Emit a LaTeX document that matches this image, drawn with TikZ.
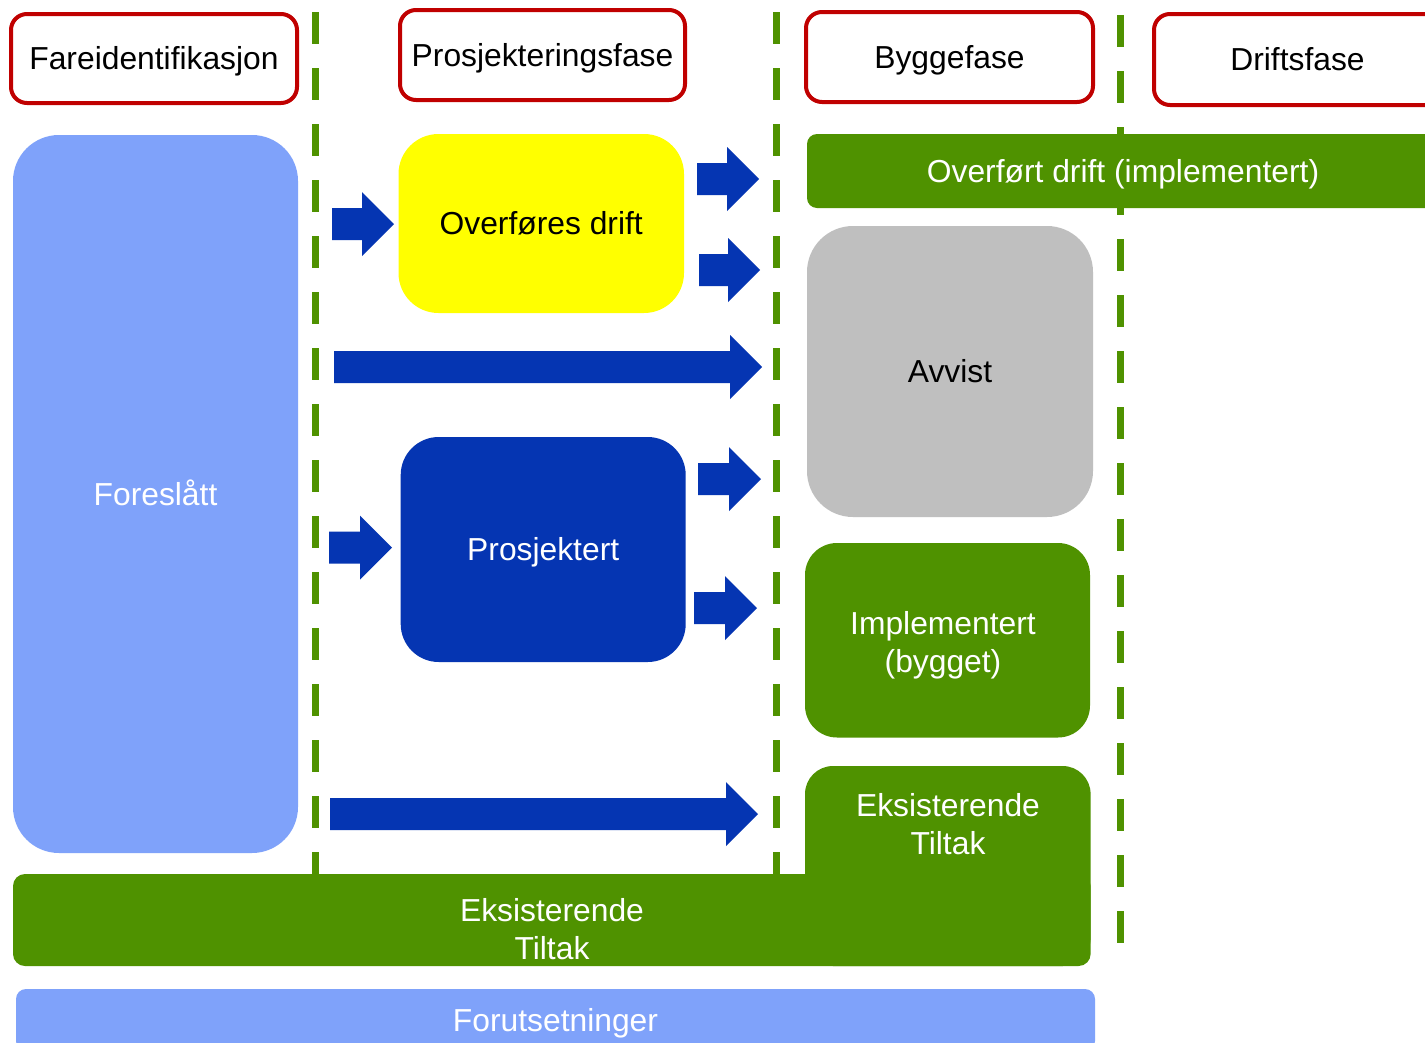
\documentclass[tikz,border=0pt]{standalone}
\usepackage{fontspec}
\setmainfont{Liberation Sans}
\definecolor{redc}{RGB}{192,0,0}
\definecolor{grn}{RGB}{79,146,0}
\definecolor{lblue}{RGB}{127,162,250}
\definecolor{dblue}{RGB}{5,53,178}
\definecolor{grayc}{RGB}{191,191,191}
\definecolor{yel}{RGB}{255,255,0}
\newcommand{\blockarr}[3]{%
  \fill[dblue] (#1,#3-16) -- (#2-32,#3-16) -- (#2-32,#3-32) -- (#2,#3)
    -- (#2-32,#3+32) -- (#2-32,#3+16) -- (#1,#3+16) -- cycle;}
\begin{document}
\begin{tikzpicture}[x=1pt,y=-1pt,
  txt/.style={font=\fontsize{31.8}{38}\selectfont},
  one/.style={txt, text height=22.8pt, text depth=0pt},
  shp/.style={inner sep=0pt, outer sep=0pt},
  hdr/.style={shp, one, draw=redc, line width=4pt, fill=white, rounded corners=16pt, text=black},
  dashline/.style={draw=grn, line width=7pt, dash pattern=on 32pt off 24pt},
  mtxt/.style={txt, align=center, anchor=north, inner sep=0pt, text=white}]
\useasboundingbox (0,0) rectangle (1425,1042);
\clip (0,0) rectangle (1425,1042);
\fill[white] (0,0) rectangle (1425,1042);

% phase separators
\coordinate (s1t) at (315,12);  \coordinate (s1b) at (315,966);
\coordinate (s2t) at (776,12);  \coordinate (s2b) at (776,966);
\coordinate (s3t) at (1120,15); \coordinate (s3b) at (1120,943);
\draw[dashline] (s1t) -- (s1b);
\draw[dashline] (s2t) -- (s2b);
\draw[dashline] (s3t) -- (s3b);

% headers
\node[hdr, minimum width=286pt, minimum height=89pt] (h1) at (154,58.5) {Fareidentifikasjon};
\node[hdr, minimum width=285pt, minimum height=90pt] (h2) at (542.5,55) {Prosjekteringsfase};
\node[hdr, minimum width=287pt, minimum height=90pt] (h3) at (949.5,57) {Byggefase};
\node[hdr, minimum width=287pt, minimum height=91pt] (h4) at (1297.5,59.5) {Driftsfase};

% boxes
\node[shp, one, fill=lblue, rounded corners=46pt, minimum width=285pt, minimum height=718pt, text=white] (fores) at (155.5,494) {Foreslått};
\node[shp, one, fill=yel, rounded corners=40pt, minimum width=285.5pt, minimum height=179pt, text=black] (ovf) at (541.25,223.5) {Overføres drift};
\node[shp, one, fill=dblue, rounded corners=38pt, minimum width=285pt, minimum height=225pt, text=white] (prosj) at (543.2,549.5) {Prosjektert};
\node[shp, one, fill=grn, rounded corners=10pt, minimum width=632pt, minimum height=74pt, text=white] (ovft) at (1123,171) {Overført drift (implementert)};
\node[shp, one, fill=grayc, rounded corners=46pt, minimum width=286pt, minimum height=291pt, text=black] (avv) at (950,371.5) {Avvist};
\node[shp, fill=grn, rounded corners=32pt, minimum width=285pt, minimum height=194.5pt] (impl) at (947.5,640.25) {};
\node[mtxt] (implt) at (943,611.6) {Implementert\\(bygget)};

% existing measures
\node[shp, fill=grn, rounded corners=28pt, minimum width=285.6pt, minimum height=200pt] (eks2) at (947.8,866) {};
\node[shp, fill=grn, rounded corners=12pt, minimum width=1077.6pt, minimum height=92pt] (eks1) at (551.8,920) {};
\node[mtxt] (eks2t) at (948,793.6) {Eksisterende\\Tiltak};
\node[mtxt] (eks1t) at (552,898.6) {Eksisterende\\Tiltak};

% prerequisites
\node[shp, one, fill=lblue, rounded corners=10pt, minimum width=1079pt, minimum height=62pt, text=white] (forut) at (555.5,1020) {Forutsetninger};

% block arrows
\blockarr{332}{394}{224}
\blockarr{697}{759}{179}
\blockarr{699}{760}{270}
\blockarr{334}{762}{367}
\blockarr{329}{392}{547.5}
\blockarr{698}{761}{479}
\blockarr{694}{757}{608}
\blockarr{330}{758}{814}
\end{tikzpicture}
\end{document}
